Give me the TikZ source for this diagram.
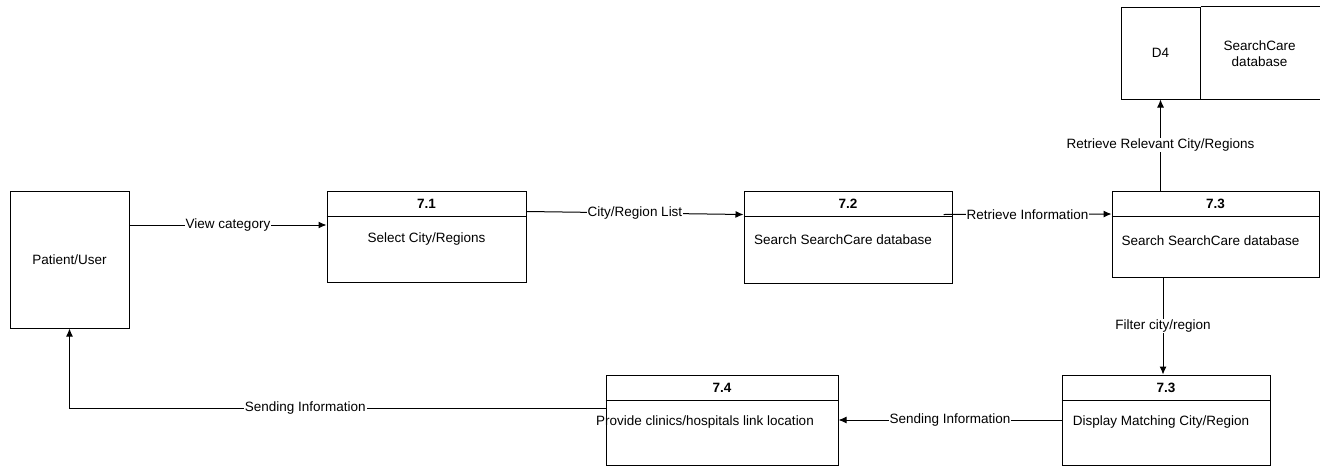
\documentclass[tikz,border=0pt]{standalone}
\usepackage{fontspec}
\setmainfont{Liberation Sans}
\usetikzlibrary{arrows.meta}

\begin{document}
\begin{tikzpicture}[x=1pt,y=-1pt,font=\fontsize{13.5}{16}\selectfont,
        box/.style={draw,line width=1pt,inner sep=0pt},
        num/.style={font=\fontsize{13.5}{16}\selectfont\bfseries},
        flow/.style={draw,line width=1pt,-{Latex[length=8pt,width=7pt]}},
        lbl/.style={fill=white,inner sep=1pt}]
            \useasboundingbox (0,0) rectangle (1327,466);

            % external entity and data store
            \node[box,minimum width=119pt,minimum height=137pt] (user) at (69.5,259.5) {Patient/User};
            \node[box,minimum width=79pt,minimum height=92pt] (d4) at (1160.5,53) {D4};
            \draw[line width=1pt] (d4.north east) -- ++(119,0);
            \draw[line width=1pt] (d4.south east) -- ++(119,0);
            \node[align=center] (d4name) at (1259.5,54) {SearchCare\\database};

            % processes
            \node[box,minimum width=199pt,minimum height=91pt] (p71) at (426.5,236.5) {};
            \draw[line width=1pt] ([yshift=-26pt]p71.north west) -- ([yshift=-26pt]p71.north east);
            \node[num] (n71) at ([yshift=-13pt]p71.north) {7.1};
            \node (t71) at ([yshift=-49pt]p71.north) {Select City/Regions};

            \node[box,minimum width=208pt,minimum height=92pt] (p72) at (848,237) {};
            \draw[line width=1pt] ([yshift=-26pt]p72.north west) -- ([yshift=-26pt]p72.north east);
            \node[num] (n72) at ([yshift=-13pt]p72.north) {7.2};
            \node (t72) at ([xshift=-5pt,yshift=-49pt]p72.north) {Search SearchCare database};

            \node[box,minimum width=207pt,minimum height=86pt] (p73a) at (1215.5,234) {};
            \draw[line width=1pt] ([yshift=-26pt]p73a.north west) -- ([yshift=-26pt]p73a.north east);
            \node[num] (n73a) at ([yshift=-13pt]p73a.north) {7.3};
            \node (t73a) at ([xshift=-5pt,yshift=-50pt]p73a.north) {Search SearchCare database};

            \node[box,minimum width=208pt,minimum height=90pt] (p73b) at (1166,420) {};
            \draw[line width=1pt] ([yshift=-26pt]p73b.north west) -- ([yshift=-26pt]p73b.north east);
            \node[num] (n73b) at ([yshift=-13pt]p73b.north) {7.3};
            \node (t73b) at ([xshift=-5pt,yshift=-48pt]p73b.north) {Display Matching City/Region};

            \node[box,minimum width=232pt,minimum height=90pt] (p74) at (722,420) {};
            \draw[line width=1pt] ([yshift=-26pt]p74.north west) -- ([yshift=-26pt]p74.north east);
            \node[num] (n74) at ([yshift=-13pt]p74.north) {7.4};
            \node (t74) at ([xshift=-17pt,yshift=-48pt]p74.north) {Provide clinics/hospitals link location};

            % data flows
            \draw[flow] ([yshift=34.5pt]user.east) -- node[lbl] {View category} ([yshift=11.5pt]p71.west);
            \draw[flow] ([yshift=25pt]p71.east) -- node[lbl] {City/Region List} ([yshift=22.5pt]p72.west);
            \draw[flow] ([xshift=-9pt,yshift=22.5pt]p72.east) -- node[lbl] {Retrieve Information} ([yshift=20pt]p73a.west);
            \draw[flow] (d4.south |- p73a.north) -- node[lbl] {Retrieve Relevant City/Regions} (d4.south);
            \draw[flow] ([xshift=-3pt]p73b.north |- p73a.south) -- node[lbl] {Filter city/region} ([xshift=-3pt]p73b.north);
            \draw[flow] (p73b.west) -- node[lbl] {Sending Information} (p74.east);
            \draw[flow] ([yshift=12pt]p74.west) -| node[lbl,pos=0.28] {Sending Information} (user.south);
        \end{tikzpicture}
\end{document}
